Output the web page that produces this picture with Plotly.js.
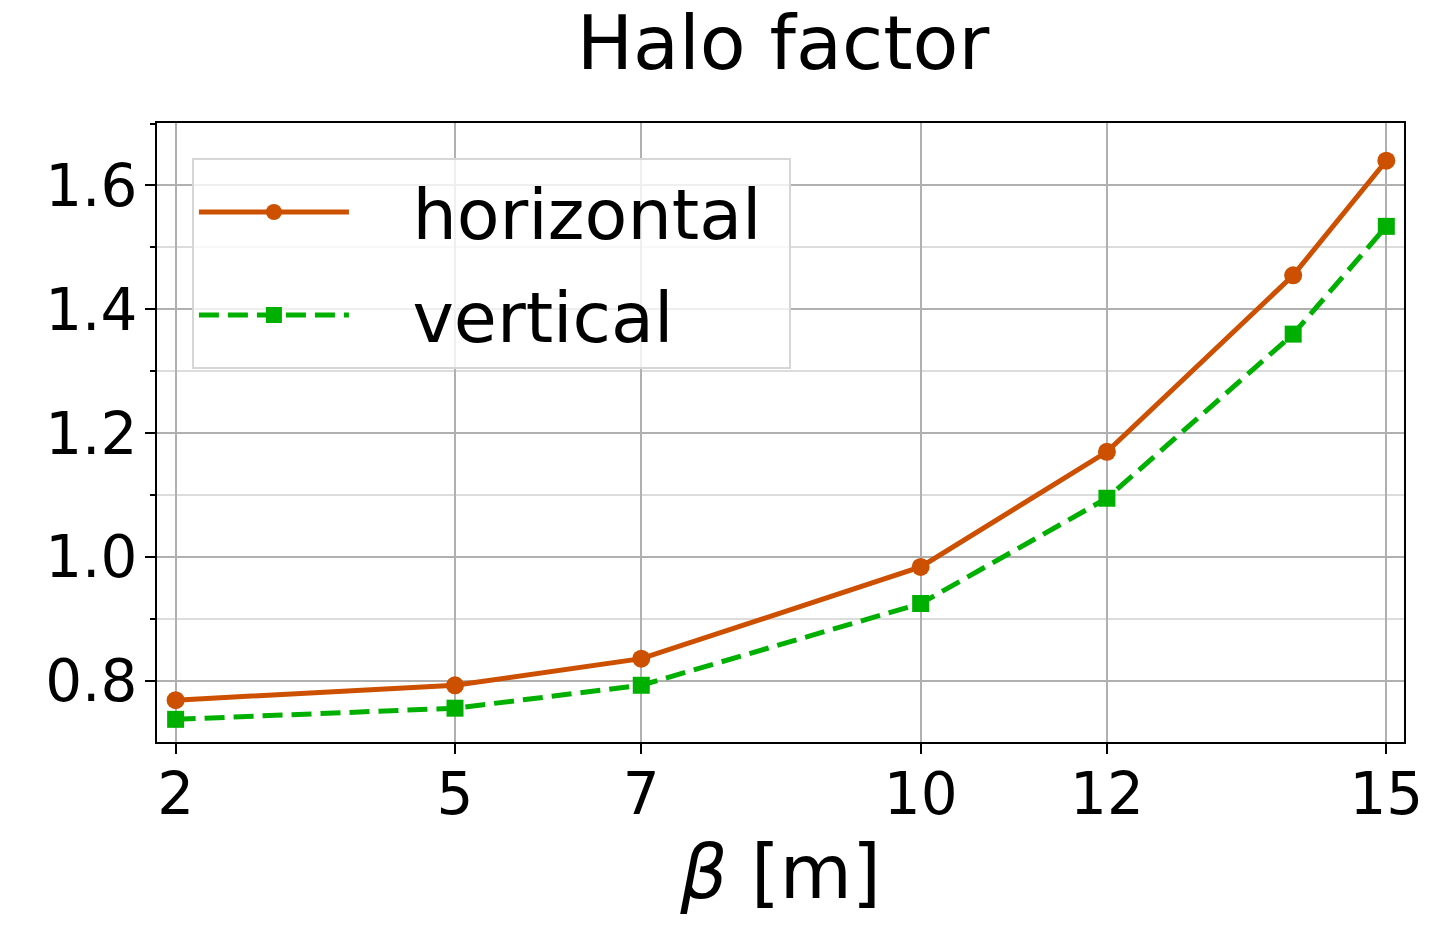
<!DOCTYPE html>
<html>
<head>
<meta charset="utf-8">
<script src="https://cdn.plot.ly/plotly-3.0.1.min.js"></script>
<style>html,body{margin:0;padding:0;background:#fff;}#chart{width:1454px;height:925px;}</style>
</head>
<body>
<div id="chart"></div>
<script>
const betaValues = [2, 5, 7, 10, 12, 14, 15];
const horizontalHalo = [0.769, 0.793, 0.836, 0.984, 1.170, 1.455, 1.640];
const verticalHalo = [0.738, 0.756, 0.793, 0.925, 1.095, 1.360, 1.534];
const xTickValues = [2, 5, 7, 10, 12, 15];
const seriesNames = ['horizontal', 'vertical'];

const FONT = 'DejaVu Sans, sans-serif';
const GAP = '\u00a0\u00a0\u2009';

const traces = [
  {
    x: betaValues, y: horizontalHalo, name: GAP + seriesNames[0] + '\u00a0',
    legendgroup: 'h',
    type: 'scatter', mode: 'lines+markers',
    line: {color: '#cc5000', width: 5},
    marker: {symbol: 'circle', size: 18, color: '#cc5000'}
  },
  {
    x: betaValues, y: verticalHalo, name: GAP + seriesNames[1],
    legendgroup: 'v',
    type: 'scatter', mode: 'lines+markers',
    line: {color: '#00b000', width: 5, dash: '20px,9px'},
    marker: {symbol: 'square', size: 17, color: '#00b000'}
  }
];

const layout = {
  width: 1454, height: 925,
  paper_bgcolor: '#ffffff', plot_bgcolor: '#ffffff',
  margin: {l: 157, r: 50, t: 123, b: 183},
  font: {family: FONT, color: '#000000'},
  title: {
    text: 'Halo factor',
    font: {family: FONT, size: 75, color: '#000'},
    x: 0.5385, xanchor: 'center',
    yref: 'container', y: 0.954, yanchor: 'middle'
  },
  showlegend: true,
  legend: {
    x: 0.028, y: 0.9435, xanchor: 'left', yanchor: 'top',
    bgcolor: 'rgba(255,255,255,0.8)', bordercolor: '#d6d6d6', borderwidth: 2,
    font: {family: FONT, size: 70, color: '#000'},
    itemwidth: 150, tracegroupgap: 9, traceorder: 'grouped'
  },
  xaxis: {
    range: [1.8, 15.19],
    tickmode: 'array', tickvals: xTickValues,
    ticktext: xTickValues.map(String),
    showgrid: true, gridcolor: '#b0b0b0', gridwidth: 2,
    zeroline: false,
    showline: true, linecolor: '#000', linewidth: 2, mirror: true,
    ticks: 'outside', ticklen: 10, tickwidth: 2, tickcolor: '#000',
    ticklabelstandoff: -10,
    tickfont: {family: FONT, size: 58, color: '#000'},
    title: {text: '<i>β</i> [m]', font: {family: FONT, size: 74, color: '#000'}, standoff: 20}
  },
  yaxis: {
    range: [0.7014, 1.7009],
    tickmode: 'linear', tick0: 0, dtick: 0.2, tickformat: '.1f',
    showgrid: true, gridcolor: '#b0b0b0', gridwidth: 2,
    zeroline: false,
    showline: true, linecolor: '#000', linewidth: 2, mirror: true,
    ticks: 'outside', ticklen: 10, tickwidth: 2, tickcolor: '#000',
    ticklabelstandoff: -4,
    tickfont: {family: FONT, size: 58, color: '#000'},
    minor: {
      tickmode: 'linear', tick0: 0, dtick: 0.1,
      ticks: 'outside', ticklen: 5, tickwidth: 2, tickcolor: '#000',
      showgrid: true, gridcolor: '#dcdcdc', gridwidth: 2
    }
  }
};

Plotly.newPlot('chart', traces, layout, {displayModeBar: false, staticPlot: true});
</script>
</body>
</html>
